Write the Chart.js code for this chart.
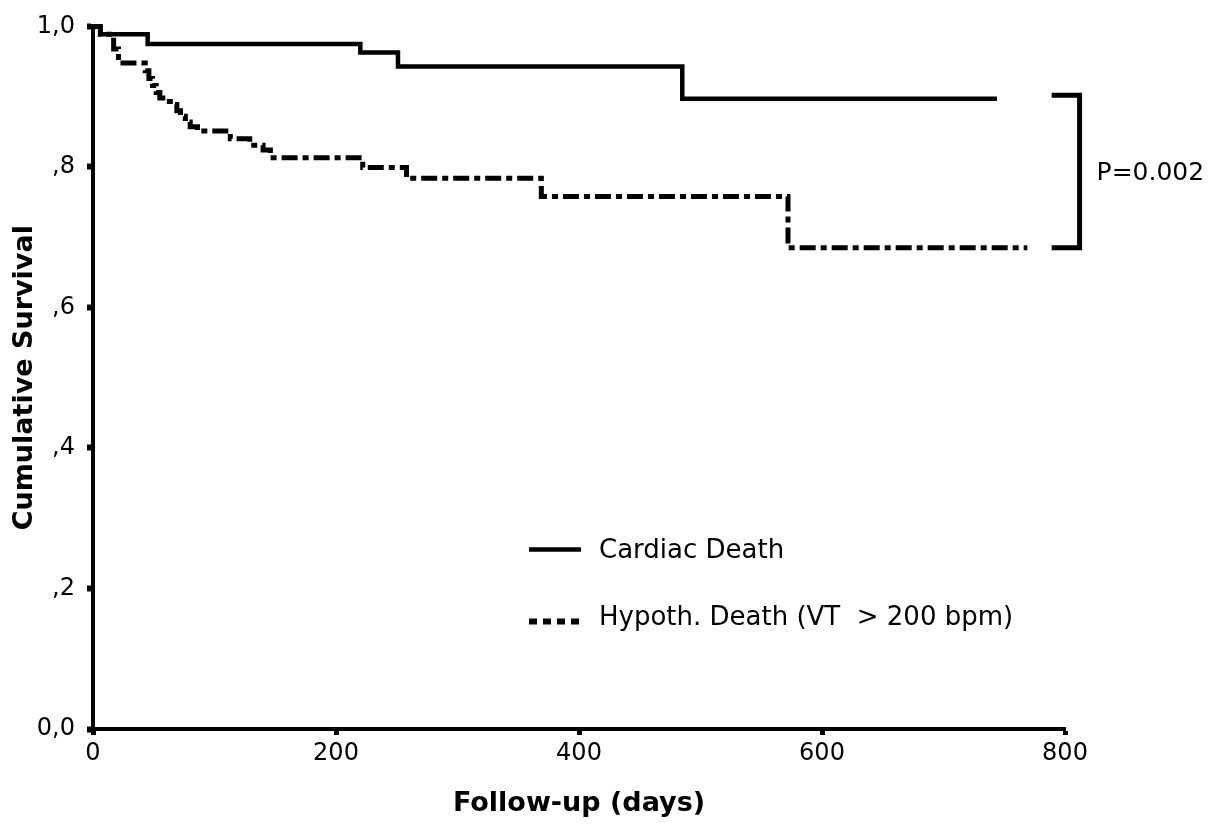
<!DOCTYPE html>
<html>
<head>
<meta charset="utf-8">
<title>Cumulative Survival</title>
<script src="https://cdn.jsdelivr.net/npm/chart.js@4.4.1/dist/chart.umd.min.js"></script>
<style>
    html, body { margin: 0; padding: 0; background: #fff; }
    canvas { display: block; }
</style>
</head>
<body>
<canvas id="survival-chart" width="1212" height="824"></canvas>
<script>
// Kaplan-Meier curve, cardiac death (days / cumulative survival)
const cardiacDays = [0, 6, 45, 220, 251, 485, 744];
const cardiacSurvival = [1.0, 0.989, 0.975, 0.963, 0.943, 0.897, 0.897];

// Kaplan-Meier curve, hypothetical death (VT > 200 bpm)
const hypothDays = [0, 6, 17, 21, 43, 46, 49, 52, 55, 60, 66, 69, 72, 76, 80, 86,
    113, 129, 140, 146, 222, 258, 369, 572, 769];
const hypothSurvival = [1.0, 0.989, 0.968, 0.948, 0.937, 0.926, 0.916, 0.906, 0.898, 0.893,
    0.889, 0.880, 0.872, 0.864, 0.857, 0.851, 0.840, 0.831, 0.824, 0.813, 0.799, 0.784,
    0.758, 0.685, 0.685];

// Bracket between the two curve ends, with the log-rank p value
const bracketDays = [789, 812, 812, 789];
const bracketSurvival = [0.902, 0.902, 0.685, 0.685];
const pValueLabel = 'P=0.002';

// Labels
const seriesLabels = ['Cardiac Death', 'Hypoth. Death (VT  > 200 bpm)'];
const xTickLabels = ['0', '200', '400', '600', '800'];
const yTickLabels = ['0,0', ',2', ',4', ',6', ',8', '1,0'];
const xTitle = 'Follow-up (days)';
const yTitle = 'Cumulative Survival';

const FONT = 'DejaVu Sans';

function toPoints(xs, ys) {
    return xs.map((x, i) => ({ x: x, y: ys[i] }));
}

// Legend drawn inside the plot area plus the p value next to the bracket
const annotationsPlugin = {
    id: 'annotations',
    afterDatasetsDraw(chart) {
        const { ctx, chartArea, scales } = chart;
        ctx.save();

        // legend
        const x0 = chartArea.left + 436;
        const rows = [
            { label: seriesLabels[0], dash: [], width: 4.5, lineY: chartArea.top + 523, baseY: chartArea.top + 532 },
            { label: seriesLabels[1], dash: [8, 6], width: 6, lineY: chartArea.top + 595, baseY: chartArea.top + 599 }
        ];
        ctx.strokeStyle = '#000';
        ctx.fillStyle = '#000';
        ctx.font = '26px "' + FONT + '"';
        ctx.textBaseline = 'alphabetic';
        ctx.textAlign = 'left';
        rows.forEach(r => {
            ctx.beginPath();
            ctx.setLineDash(r.dash);
            ctx.lineWidth = r.width;
            ctx.lineCap = 'butt';
            ctx.moveTo(x0, r.lineY);
            ctx.lineTo(x0 + 52, r.lineY);
            ctx.stroke();
            ctx.fillText(r.label, x0 + 70, r.baseY);
        });
        ctx.setLineDash([]);

        // p value
        const bx = scales.x.getPixelForValue(bracketDays[1]);
        const my = (scales.y.getPixelForValue(bracketSurvival[0]) + scales.y.getPixelForValue(bracketSurvival[2])) / 2;
        ctx.font = '25px "' + FONT + '"';
        ctx.fillText(pValueLabel, bx + 17, my + 9);

        ctx.restore();
    }
};

const ctx = document.getElementById('survival-chart').getContext('2d');

new Chart(ctx, {
    type: 'line',
    data: {
        datasets: [{
            label: seriesLabels[0],
            data: toPoints(cardiacDays, cardiacSurvival),
            stepped: 'before',
            borderColor: '#000',
            borderWidth: 4.5,
            pointRadius: 0,
            fill: false,
            clip: false
        }, {
            label: seriesLabels[1],
            data: toPoints(hypothDays, hypothSurvival),
            stepped: 'before',
            borderColor: '#000',
            borderWidth: 5,
            borderDash: [16, 5, 6, 5],
            pointRadius: 0,
            fill: false,
            clip: false
        }, {
            label: 'bracket',
            data: toPoints(bracketDays, bracketSurvival),
            borderColor: '#000',
            borderWidth: 5,
            borderJoinStyle: 'miter',
            pointRadius: 0,
            fill: false,
            clip: false
        }]
    },
    options: {
        responsive: false,
        animation: false,
        devicePixelRatio: 1,
        layout: { padding: { left: 0, right: 147, top: 22, bottom: 0 } },
        plugins: {
            legend: { display: false },
            tooltip: { enabled: false }
        },
        scales: {
            x: {
                type: 'linear',
                min: 0,
                max: 800,
                ticks: {
                    stepSize: 200,
                    color: '#000',
                    padding: 4,
                    font: { family: FONT, size: 24 },
                    callback: (value, index) => xTickLabels[index]
                },
                grid: { drawOnChartArea: false, drawTicks: true, tickLength: 6, tickWidth: 5, tickColor: '#000' },
                border: { display: true, color: '#000', width: 4 },
                title: {
                    display: true,
                    text: xTitle,
                    color: '#000',
                    font: { family: FONT, size: 27, weight: 'bold' },
                    padding: { top: 0, bottom: 4 }
                },
                afterFit(scale) { scale.height = 95; }
            },
            y: {
                min: 0,
                max: 1,
                ticks: {
                    stepSize: 0.2,
                    color: '#000',
                    padding: 12,
                    font: { family: FONT, size: 24 },
                    callback: (value, index) => yTickLabels[index]
                },
                grid: { drawOnChartArea: false, drawTicks: true, tickLength: 6, tickWidth: 6, tickColor: '#000' },
                border: { display: true, color: '#000', width: 4 },
                title: {
                    display: true,
                    text: yTitle,
                    color: '#000',
                    font: { family: FONT, size: 27, weight: 'bold' },
                    padding: { top: 9, bottom: 0 }
                },
                afterFit(scale) { scale.width = 93; }
            }
        }
    },
    plugins: [annotationsPlugin]
});
</script>
</body>
</html>
